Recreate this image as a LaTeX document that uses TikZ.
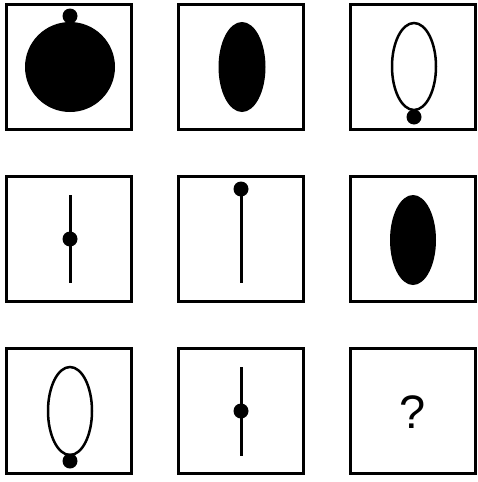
\documentclass[tikz,border=0pt]{standalone}
\usepackage{fontspec}
\setmainfont{Liberation Sans}

\tikzset{
  cell/.style={draw, line width=3pt, minimum size=125pt, inner sep=0pt},
  dot/.style={fill=black},
  stick/.style={line width=3pt},
  ring/.style={line width=2.5pt}
}

\begin{document}
\begin{tikzpicture}[x=1pt, y=-1pt]
  \useasboundingbox (0,0) rectangle (478,482);

  % Grid of cells
  \foreach \r/\y in {1/67, 2/239, 3/411}
    \foreach \c/\x in {1/68.5, 2/241, 3/412.5}
      \node[cell] (c\r\c) at (\x,\y) {};

  % Row 1
  \fill (70,67) circle[radius=45];
  \fill[dot] (70,16) circle[radius=7.5];
  \fill (242,67) ellipse[x radius=23.5, y radius=45];
  \draw[ring] (414,66.5) ellipse[x radius=22, y radius=43.5];
  \fill[dot] (414,117) circle[radius=7.5];

  % Row 2
  \draw[stick] (70,195) -- (70,283);
  \fill[dot] (70,239) circle[radius=7.5];
  \draw[stick] (241,195) -- (241,283);
  \fill[dot] (241,189) circle[radius=7.5];
  \fill (413,240) ellipse[x radius=23, y radius=45];

  % Row 3
  \draw[ring] (70,411) ellipse[x radius=22, y radius=44];
  \fill[dot] (70,461) circle[radius=7.5];
  \draw[stick] (241,367) -- (241,456);
  \fill[dot] (241,411) circle[radius=7.5];
  \node[font=\fontsize{47}{47}\selectfont] (q) at (413,412.5) {?};
\end{tikzpicture}
\end{document}
